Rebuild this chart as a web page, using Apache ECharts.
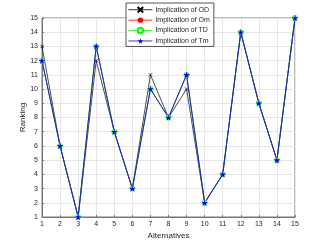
<!DOCTYPE html>
<html><head><meta charset="utf-8">
<script src="https://cdn.jsdelivr.net/npm/echarts@6/dist/echarts.min.js"></script>
<style>html,body{margin:0;padding:0;background:#fff}#c{width:327px;height:245px}</style>
</head><body><div id="c"></div>
<script>
var alternatives = [1,2,3,4,5,6,7,8,9,10,11,12,13,14,15];
var implOD = [13,6,1,12,7,3,11,8,10,2,4,14,9,5,15];
var implOm = [12,6,1,13,7,3,10,8,11,2,4,14,9,5,15];
var implTD = [12,6,1,13,7,3,10,8,11,2,4,14,9,5,15];
var implTm = [12,6,1,13,7,3,10,8,11,2,4,14,9,5,15];
var seriesNames = ['Implication of OD','Implication of Om','Implication of TD','Implication of Tm'];

function pairs(v){ return alternatives.map(function(a,i){ return [a, v[i]]; }); }
var FONT = 'Liberation Sans, Arial, sans-serif';
var starPath = 'path://M0,-10 L2.35,-3.24 L9.51,-3.09 L3.8,1.24 L5.88,8.09 L0,4 L-5.88,8.09 L-3.8,1.24 L-9.51,-3.09 L-2.35,-3.24 Z';
var xPath = 'path://M0,0 L10,10 M10,0 L0,10';

var chart = echarts.init(document.getElementById('c'), null, {renderer:'canvas'});
chart.setOption({
  animation:false,
  backgroundColor:'#fff',
  grid:{left:42,right:32,top:18,bottom:27,show:true,borderColor:'#777',borderWidth:1,backgroundColor:'transparent'},
  legend:{
    orient:'vertical', left:126, top:3,
    backgroundColor:'#fff', borderColor:'#555', borderWidth:1,
    padding:[3,4,2,2], itemGap:3.2, itemWidth:24, itemHeight:6.8,
    textStyle:{fontFamily:FONT,fontSize:7,color:'#262626',padding:[0,0,0,-2]},
    lineStyle:{width:0.8},
    data:seriesNames
  },
  xAxis:{
    type:'value', min:1, max:15, interval:1,
    name:'Alternatives', nameLocation:'middle', nameGap:15, nameMoveOverlap:false,
    nameTextStyle:{fontFamily:FONT,fontSize:8,color:'#262626'},
    axisLine:{show:true,lineStyle:{color:'#777',width:1}},
    axisTick:{show:true,inside:true,length:2,lineStyle:{color:'#777'}},
    axisLabel:{fontFamily:FONT,fontSize:7,color:'#262626',margin:4},
    splitLine:{show:true,lineStyle:{color:'#e6e6e6',width:1}}
  },
  yAxis:{
    type:'value', min:1, max:15, interval:1,
    name:'Ranking', nameLocation:'middle', nameGap:15, nameRotate:90, nameMoveOverlap:false,
    nameTextStyle:{fontFamily:FONT,fontSize:8,color:'#262626'},
    axisLine:{show:true,lineStyle:{color:'#777',width:1}},
    axisTick:{show:true,inside:true,length:2,lineStyle:{color:'#777'}},
    axisLabel:{fontFamily:FONT,fontSize:7,color:'#262626',margin:4},
    splitLine:{show:true,lineStyle:{color:'#e6e6e6',width:1}}
  },
  series:[
    {name:seriesNames[0],type:'line',data:pairs(implOD),symbol:xPath,symbolSize:3.5,showAllSymbol:true,
     lineStyle:{color:'#000',width:0.7},itemStyle:{color:'#000',borderColor:'#000',borderWidth:0.7}},
    {name:seriesNames[1],type:'line',data:pairs(implOm),symbol:'circle',symbolSize:1.5,showAllSymbol:true,
     lineStyle:{color:'#ff0000',width:0.7},itemStyle:{color:'#ff0000',borderColor:'#ff0000',borderWidth:0}},
    {name:seriesNames[2],type:'line',data:pairs(implTD),symbol:'circle',symbolSize:5,showAllSymbol:true,
     lineStyle:{color:'#00ff00',width:0.7},itemStyle:{color:'#ffffff',borderColor:'#00ff00',borderWidth:0.8}},
    {name:seriesNames[3],type:'line',data:pairs(implTm),symbol:starPath,symbolSize:6.5,showAllSymbol:true,
     lineStyle:{color:'#0000ff',width:0.8},itemStyle:{color:'#0000ff',borderColor:'#0000ff',borderWidth:0}}
  ]
});
</script></body></html>
